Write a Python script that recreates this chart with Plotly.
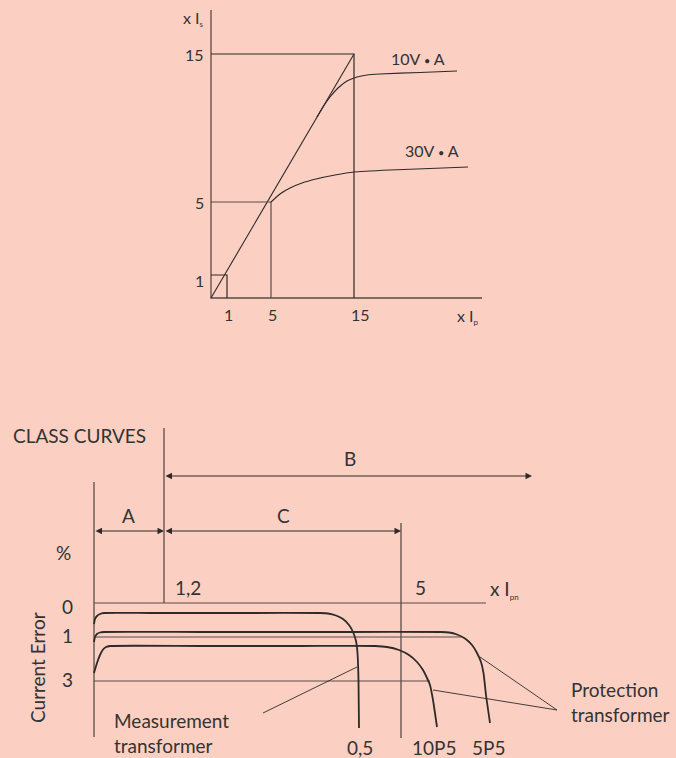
import plotly.graph_objects as go

# diagram drawn on a 676 x 758 canvas, y measured downwards
BG = "#fbd0c3"
INK = "#2f2a2a"
THIN = "#5a4c48"
FONT = "Lato"

# ---- top chart: secondary current vs primary current ----
top_axis_x = [211, 211, 482]
top_axis_y = [10, 298, 298]
diag_x = [211, 354]
diag_y = [298, 54]
box15_x = [211, 354, 354]
box15_y = [54, 54, 298]
box5_x = [211, 271, 271]
box5_y = [202, 202, 298]
box1_x = [211, 227, 227]
box1_y = [275, 275, 298]
va10_x = [317, 323, 330, 338, 347, 357, 367, 380, 420, 457]
va10_y = [117, 107, 97, 88, 81, 77, 75, 74, 72.5, 71]
va30_x = [271, 280, 290, 302, 316, 335, 354, 390, 430, 468]
va30_y = [202, 194, 188, 183, 179, 175, 172, 170, 168.5, 167]

top_ytick_text = ["15", "5", "1"]
top_ytick_y = [54, 202, 280]
top_xtick_text = ["1", "5", "15"]
top_xtick_x = [228, 272, 360]

# ---- bottom chart: class curves ----
vline_x = [164, 94, 401]
vline_top = [428, 482, 523]
vline_bot = [603, 737, 738]
hline_y = [603, 637, 681]
hline_end = [486, 462, 430]
hline_start = 94

curve05_x = [94, 95, 97, 100, 104, 150, 250, 320, 328, 336, 343, 349, 353, 356, 357.5, 358.5, 359]
curve05_y = [624, 619, 616, 614, 613, 613, 613, 613, 613.5, 615.5, 619, 625, 632, 641, 653, 680, 728]
curve5p5_x = [94, 95, 97, 100, 104, 200, 350, 441, 449, 457, 465, 472, 477, 481, 483.5, 486, 490]
curve5p5_y = [642, 637, 634, 632.5, 632, 632, 632, 632, 632.5, 634.5, 638.5, 645, 653, 662, 673, 695, 723]
curve10p5_x = [94, 97, 100, 103, 106, 110, 200, 300, 375, 387, 399, 409, 417, 423, 427, 430, 433, 437]
curve10p5_y = [673, 663, 655, 649.5, 647, 646, 646, 646, 646, 647, 650, 655, 662, 670, 678, 685, 700, 727]

leader_meas_x = [357, 263]
leader_meas_y = [667, 713]
leader_prot_x = [480, 557, 433]
leader_prot_y = [657, 710, 690]

arrow_names = ["B", "A", "C"]
arrow_y = [476, 531, 531]
arrow_x0 = [164, 94, 164]
arrow_x1 = [532, 164, 401]
arrow_label_x = [350, 128, 283]
arrow_label_y = [458, 515, 515]

err_tick_text = ["0", "1", "3"]
err_tick_y = [606, 635, 679]
curve_names = ["0,5", "10P5", "5P5"]
curve_name_x = [360, 434, 488]

fig = go.Figure()

def line(x, y, color=INK, width=1.2, shape="linear"):
    fig.add_trace(go.Scatter(x=x, y=y, mode="lines", hoverinfo="skip",
                             line=dict(color=color, width=width, shape=shape,
                                       smoothing=0.5)))

# top chart lines
line(top_axis_x, top_axis_y, THIN, 1.3)
line(diag_x, diag_y, INK, 1.1)
line(box15_x, box15_y, INK, 1.2)
line(box5_x, box5_y, THIN, 1.2)
line(box1_x, box1_y, INK, 1.2)
line(va10_x, va10_y, INK, 1.2, "spline")
line(va30_x, va30_y, INK, 1.2, "spline")

# bottom chart lines
for x, t, b in zip(vline_x, vline_top, vline_bot):
    line([x, x], [t, b], THIN, 1.3)
for y, e in zip(hline_y, hline_end):
    line([hline_start, e], [y, y], THIN, 1.1)
for cx, cy in [(curve05_x, curve05_y), (curve5p5_x, curve5p5_y), (curve10p5_x, curve10p5_y)]:
    line(cx, cy, INK, 1.8, "spline")
line(leader_meas_x, leader_meas_y, INK, 0.9)
line(leader_prot_x, leader_prot_y, INK, 0.9)

ann = []

def label(x, y, text, size=16, xanchor="center", **kw):
    ann.append(dict(x=x, y=y, xref="x", yref="y", text=text, showarrow=False,
                    xanchor=xanchor, yanchor="middle",
                    font=dict(family=FONT, size=size, color="#333"), **kw))

def sub(s):
    return "<sub><span style='font-size:8px'>" + s + "</span></sub>"

# top chart text
label(206, 18, "x I" + sub("s"), xanchor="right")
for t, y in zip(top_ytick_text, top_ytick_y):
    label(206, y, t, xanchor="right")
for t, x in zip(top_xtick_text, top_xtick_x):
    label(x, 314, t)
label(455, 316, "x I" + sub("p"), xanchor="left")
label(418, 58, "10V <span style='font-size:11px'>•</span> A")
label(432, 150, "30V <span style='font-size:11px'>•</span> A")

# bottom chart text
label(11, 435, "CLASS CURVES", size=19, xanchor="left")
for n, x0, x1, y, lx, ly in zip(arrow_names, arrow_x0, arrow_x1, arrow_y,
                                 arrow_label_x, arrow_label_y):
    ann.append(dict(x=x1, y=y, ax=x0, ay=y, xref="x", yref="y", axref="x", ayref="y",
                    text="", showarrow=True, arrowside="end+start", arrowhead=2,
                    startarrowhead=2, arrowsize=1.3, startarrowsize=1.3,
                    arrowwidth=1, arrowcolor=INK))
    label(lx, ly, n, size=19)
label(63, 552, "%", size=19)
label(188, 587, "1,2", size=19)
label(420, 587, "5", size=19)
label(488, 589, "x I" + sub("pn"), size=19, xanchor="left")
for t, y in zip(err_tick_text, err_tick_y):
    label(67, y, t, size=19)
label(37, 668, "Current Error", size=19, textangle=-90)
label(112, 733, "Measurement<br>transformer", size=19, xanchor="left", align="left")
label(569, 702, "Protection<br>transformer", size=19, xanchor="left", align="left")
for t, x in zip(curve_names, curve_name_x):
    label(x, 747, t, size=19)

fig.update_layout(
    width=676, height=758,
    margin=dict(l=0, r=0, t=0, b=0),
    paper_bgcolor=BG, plot_bgcolor=BG,
    showlegend=False,
    annotations=ann,
    xaxis=dict(range=[0, 676], visible=False, fixedrange=True),
    yaxis=dict(range=[758, 0], visible=False, fixedrange=True),
)

fig.write_html("out.html", config={"displayModeBar": False},
               post_script="document.body.style.margin='0';document.body.style.overflow='hidden';")
